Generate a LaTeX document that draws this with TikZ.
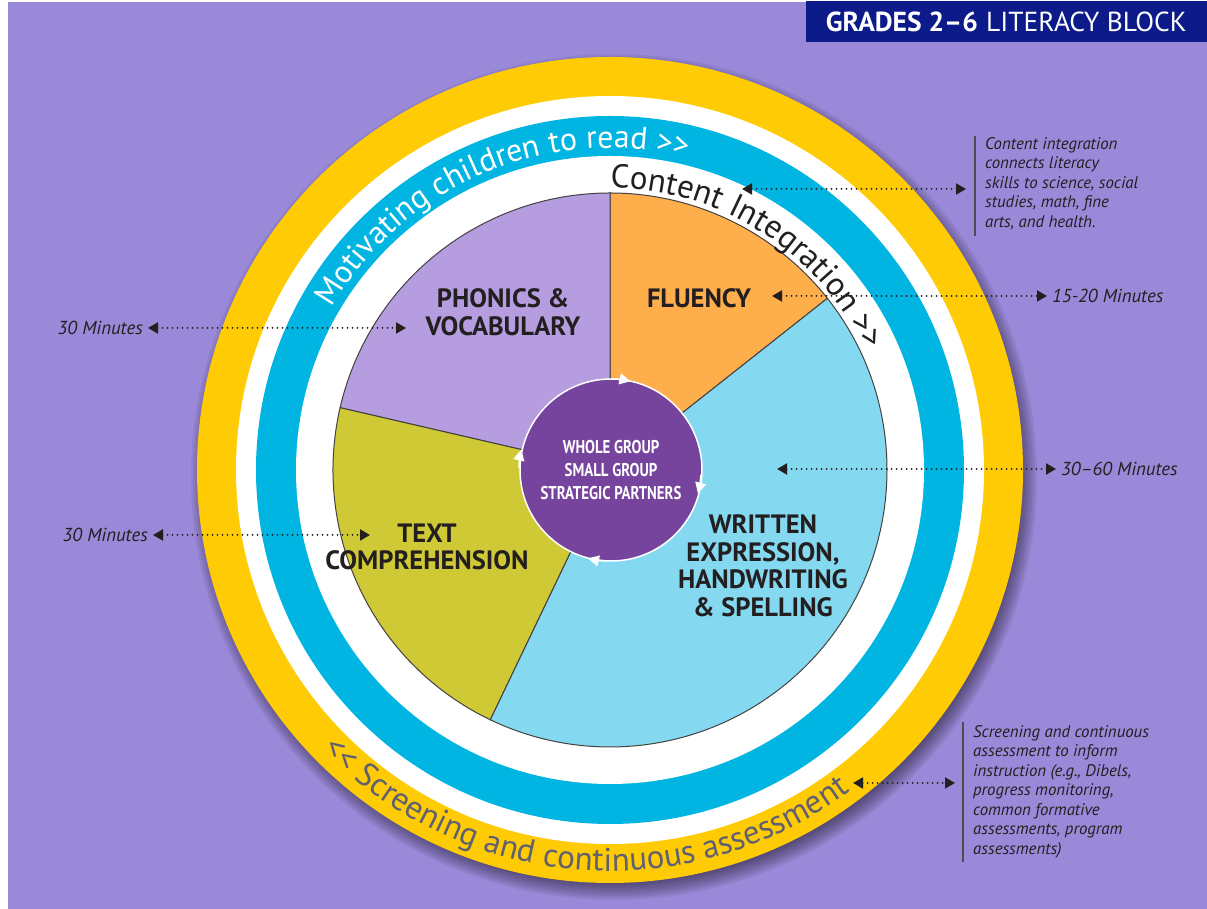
\documentclass[tikz,border=0pt]{standalone}
\usepackage{fontspec}
\setmainfont{PT Sans}
\newfontfamily\condfont{PT Sans}[FakeStretch=0.8]
\usetikzlibrary{arrows.meta, decorations.text}

\definecolor{bgpurple}{HTML}{9A89D8}
\definecolor{ringyellow}{HTML}{FFCB05}
\definecolor{ringblue}{HTML}{00B5E2}
\definecolor{phonlav}{HTML}{B59DDF}
\definecolor{fluorange}{HTML}{FFAE4C}
\definecolor{writblue}{HTML}{84D9F1}
\definecolor{textolive}{HTML}{CEC935}
\definecolor{hubpurple}{HTML}{76449D}
\definecolor{titlenavy}{HTML}{0D1B8A}
\definecolor{inkdark}{HTML}{231F20}
\definecolor{screengray}{HTML}{5F6070}

\begin{document}
\begin{tikzpicture}[
    x=1pt, y=1pt,
    slice_label/.style={font=\fontsize{26.5}{27.5}\selectfont\bfseries, text=inkdark, align=center},
    time_label/.style={font=\fontsize{18.8}{20}\selectfont\itshape, text=inkdark, inner sep=5pt},
    note_text/.style={font=\fontsize{16.8}{19.5}\selectfont\itshape, text=inkdark, align=left, anchor=north west, inner xsep=10pt, inner ysep=0pt},
    dot_arrow/.style={{Triangle[length=10pt,width=11pt]}-{Triangle[length=10pt,width=11pt]}, inkdark, line width=2pt, line cap=round, dash pattern=on 0pt off 5pt},
    slice_edge/.style={draw=inkdark!85, line width=1pt},
    ring_text/.style={decorate, decoration={text along path, text align=center, text color=#1}}
]
    \useasboundingbox (0,0) rectangle (1207,909);
    \fill[white] (0,0) rectangle (1207,909);
    \fill[bgpurple] (8,0) rectangle (1207,907);

    \coordinate (ctr) at (610,439);

    % soft shadow under the rings
    \foreach \i in {1,...,10}
        \fill[black, opacity=0.06] ([shift={(4,-7)}]ctr) circle[radius=403+2*\i];

    % rings
    \fill[ringyellow] (ctr) circle[radius=413];
    \fill[white] (ctr) circle[radius=374];
    \fill[ringblue] (ctr) circle[radius=354];
    \fill[white] (ctr) circle[radius=314];

    \begin{scope}[shift={(ctr)}]
        % pie slices
        \filldraw[fill=fluorange, slice_edge] (0,0) -- (90:277) arc[start angle=90, end angle=38.3, radius=277] -- cycle;
        \filldraw[fill=phonlav, slice_edge] (0,0) -- (167:277) arc[start angle=167, end angle=90, radius=277] -- cycle;
        \filldraw[fill=textolive, slice_edge] (0,0) -- (244.4:277) arc[start angle=244.4, end angle=167, radius=277] -- cycle;
        \filldraw[fill=writblue, slice_edge] (0,0) -- (398.3:277) arc[start angle=398.3, end angle=244.4, radius=277] -- cycle;

        % text round the rings
        \path[ring_text=white, decoration={text={|\fontsize{32}{32}\selectfont|Motivating children to read >>}}]
            (165:322) arc[start angle=165, end angle=61, radius=322];
        \path[ring_text=inkdark, decoration={text={|\fontsize{33}{33}\selectfont|Content Integration >>}}]
            (105:282) arc[start angle=105, end angle=10, radius=282];
        \path[ring_text=screengray, decoration={text={|\fontsize{33}{33}\selectfont|<< Screening and continuous assessment}}]
            (205:401) arc[start angle=205, end angle=326, radius=401];

        % centre circle
        \node[circle, fill=hubpurple, draw=white, line width=1.5pt, minimum size=182pt, inner sep=0pt,
              text=white, align=center, font=\condfont\bfseries\fontsize{18.5}{23}\selectfont] (hub) at (1,0)
              {WHOLE GROUP\\SMALL GROUP\\STRATEGIC PARTNERS};
        \foreach \a in {77,-15,-104,167}
            \draw[white, line width=1.5pt, -{Triangle[length=11pt,width=11pt]}]
                (\a+12:91) arc[start angle=\a+12, end angle=\a, radius=91];
    \end{scope}

    % slice labels
    \node[slice_label] (phon) at (503,597) {PHONICS \&\\VOCABULARY};
    \node[slice_label] (flu) at (699,611) {FLUENCY};
    \node[slice_label] (comp) at (427,362) {TEXT\\COMPREHENSION};
    \node[slice_label] (writ) at (763,343) {WRITTEN\\EXPRESSION,\\HANDWRITING\\\& SPELLING};

    % minutes
    \node[time_label, anchor=east] (minPhon) at (148,581) {30 Minutes};
    \node[time_label, anchor=east] (minComp) at (153,374) {30 Minutes};
    \node[time_label, anchor=west] (minFlu) at (1047,613) {15-20 Minutes};
    \node[time_label, anchor=west] (minWrit) at (1056,440) {30–60 Minutes};
    \coordinate (phonTip) at (406,581);
    \coordinate (compTip) at (370,374);
    \coordinate (fluTip) at (772,613);
    \coordinate (writTip) at (777,440);
    \draw[dot_arrow] (minPhon) -- (phonTip);
    \draw[dot_arrow] (minComp) -- (compTip);
    \draw[dot_arrow] (fluTip) -- (minFlu);
    \draw[dot_arrow] (writTip) -- (minWrit);

    % side notes
    \node[note_text] (ciNote) at (975,772) {Content integration\\connects literacy\\skills to science, social\\studies, math, fine\\arts, and health.};
    \draw[inkdark!80, line width=1.2pt] ([yshift=1pt]ciNote.north west) -- ([yshift=-6pt]ciNote.south west);
    \node[note_text] (scrNote) at (963,184) {Screening and continuous\\assessment to inform\\instruction (e.g., Dibels,\\progress monitoring,\\common formative\\assessments, program\\assessments)};
    \draw[inkdark!80, line width=1.2pt] ([yshift=3pt]scrNote.north west) -- ([yshift=-4pt]scrNote.south west);
    \coordinate (ciTip) at (742,720);
    \coordinate (ciEnd) at (966,720);
    \coordinate (scrTip) at (853,126);
    \coordinate (scrEnd) at (955,126);
    \draw[dot_arrow] (ciTip) -- (ciEnd);
    \draw[dot_arrow] (scrTip) -- (scrEnd);

    % title
    \node[fill=titlenavy, text=white, anchor=north east, minimum width=401pt, minimum height=41pt, inner sep=0pt,
          font=\fontsize{27.5}{27.5}\selectfont] (title) at (1207,908) {\textbf{GRADES 2–6}\hspace{0.3em}LITERACY BLOCK};
\end{tikzpicture}
\end{document}
